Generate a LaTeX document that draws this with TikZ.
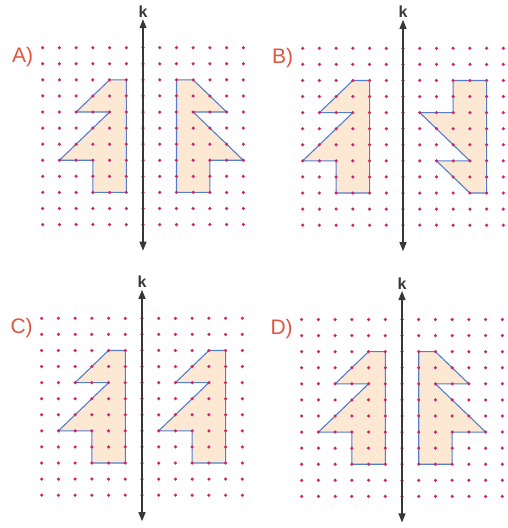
\documentclass[tikz,border=0pt]{standalone}
\usepackage{fontspec}
\setmainfont{Liberation Sans}
\usetikzlibrary{arrows.meta}
\definecolor{dotred}{RGB}{205,40,100}
\definecolor{shapeline}{RGB}{85,125,205}
\definecolor{shapefill}{RGB}{253,232,212}
\definecolor{labred}{RGB}{225,85,60}
\definecolor{axisgrey}{RGB}{55,55,55}
\tikzset{
  gdot/.style={fill=dotred},
  figshape/.style={fill=shapefill, draw=shapeline, line width=1.1pt, line join=miter},
  axisarrow/.style={draw=axisgrey, line width=1.2pt, {Triangle[length=9pt,width=7pt]}-{Triangle[length=9pt,width=7pt]}},
  klabel/.style={text=axisgrey, font=\fontsize{16}{16}\selectfont\bfseries, inner sep=0pt},
  panellabel/.style={text=labred, font=\fontsize{21}{21}\selectfont, inner sep=0pt}
}
\newcommand{\mypanel}[5]{%
  \begin{scope}[shift={(#1pt,-#2pt)}, x=16.72pt, y=-16.08pt]
    \filldraw[figshape] #4;
    \filldraw[figshape] #5;
    \foreach \c in {0,...,12}{\foreach \r in {0,...,11}{\fill[gdot] (\c,\r) circle (1.75pt);}}
    \coordinate (top#3) at (6,-1.77);
    \coordinate (bot#3) at (6,12.62);
    \draw[axisarrow] (top#3) -- (bot#3);
    \node[klabel] (k#3) at (6,-2.25) {k};
    \node[panellabel] (lab#3) at (-1.2,0.6) {#3)};
  \end{scope}}
\begin{document}
\begin{tikzpicture}[x=1pt,y=-1pt]
\useasboundingbox[fill=white] (0,0) rectangle (507,528);
\mypanel{42.7}{47.7}{A}
  {(5,2) -- (5,9) -- (3,9) -- (3,7) -- (1,7) -- (4,4) -- (2,4) -- (4,2) -- cycle}
  {(8,2) -- (8,9) -- (10,9) -- (10,7) -- (12,7) -- (9,4) -- (11,4) -- (9,2) -- cycle}
\mypanel{302.7}{48.3}{B}
  {(4,2) -- (4,9) -- (2,9) -- (2,7) -- (0,7) -- (3,4) -- (1,4) -- (3,2) -- cycle}
  {(11,2) -- (11,9) -- (10,9) -- (8,7) -- (10,7) -- (7,4) -- (9,4) -- (9,2) -- cycle}
\mypanel{41.7}{318.3}{C}
  {(5,2) -- (5,9) -- (3,9) -- (3,7) -- (1,7) -- (4,4) -- (2,4) -- (4,2) -- cycle}
  {(11,2) -- (11,9) -- (9,9) -- (9,7) -- (7,7) -- (10,4) -- (8,4) -- (10,2) -- cycle}
\mypanel{301.7}{319.5}{D}
  {(5,2) -- (5,9) -- (3,9) -- (3,7) -- (1,7) -- (4,4) -- (2,4) -- (4,2) -- cycle}
  {(7,2) -- (7,9) -- (9,9) -- (9,7) -- (11,7) -- (8,4) -- (10,4) -- (8,2) -- cycle}
\end{tikzpicture}
\end{document}
